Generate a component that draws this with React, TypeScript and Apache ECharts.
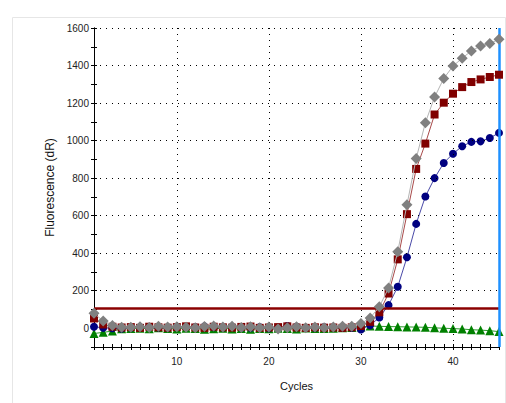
import React, { useEffect, useRef } from "react";
import * as echarts from "echarts";

// Amplification cycles 1..45
const cycles: number[] = Array.from({ length: 45 }, (_, i) => i + 1);

// Fluorescence (dR) per cycle for each well
const grayWell: number[] = [
  80, 38, 15, 5, 5, 8, 4, 10, 6, 8, 5, 3, 9, 12, 6, 10, 4, 8, 2, 6, -4, 2, 8, 3, 7, 2, 7, 10, 10, 25,
  55, 114, 215, 408, 658, 904, 1095, 1232, 1331, 1397, 1439, 1478, 1504, 1517, 1540,
];
const redWell: number[] = [
  52, 20, 8, 4, 6, 2, 8, 5, 3, 6, 10, 4, 2, 8, 5, 3, 7, 9, 2, 4, 6, 10, 4, 2, 5, 3, 4, 2, 5, 12,
  34, 85, 185, 367, 608, 849, 984, 1139, 1202, 1250, 1285, 1312, 1326, 1339, 1351,
];
const navyWell: number[] = [
  8, 2, 0, -2, 3, 6, 8, 4, 2, 6, 8, 5, 10, 6, 4, 8, 3, 2, 6, 0, 4, 12, 8, 3, 2, 5, 4, 3, 2, -7,
  16, 57, 123, 221, 378, 556, 702, 800, 881, 930, 970, 993, 996, 1014, 1041,
];
const greenWell: number[] = [
  -28, -22, -15, -3, -2, 0, -3, 2, -1, -4, 0, -2, -5, -3, 0, -4, -2, -6, -1, -3, 0, -2, -4, 1, -2, -1, 0, 2, 4, 6,
  12, 10, 9, 8, 7, 6, 5, 2, 0, -2, -4, -8, -10, -13, -18,
];

const threshold = 105;
const endCycle = 45;
const yGridValues: number[] = [200, 400, 600, 800, 1000, 1200, 1400, 1600];
const xGridValues: number[] = [10, 20, 30, 40];

const FONT = "'Liberation Sans', Arial, sans-serif";

const pairs = (vals: number[]) => cycles.map((c, i) => [c, vals[i]]);

export default function App() {
  const ref = useRef<HTMLDivElement>(null);

  useEffect(() => {
    document.body.style.margin = "0";
    if (!ref.current) return;
    const chart = echarts.init(ref.current, null, { renderer: "svg" });

    const dotted = { color: "#000", width: 1, type: [1, 5] as number[] };

    const baseX = {
      type: "value" as const,
      min: 1,
      max: 45,
      interval: 1,
      position: "bottom" as const,
      splitLine: { show: false },
      axisLine: { show: true, onZero: false, lineStyle: { color: "#000", width: 1 } },
    };
    const baseY = {
      type: "value" as const,
      min: -100,
      max: 1600,
      interval: 100,
      position: "left" as const,
      splitLine: { show: false },
      axisLine: { show: true, onZero: false, lineStyle: { color: "#000", width: 1 } },
    };

    chart.setOption({
      animation: false,
      backgroundColor: "#fff",
      graphic: [
        {
          type: "rect",
          shape: { x: 12.5, y: 17.5, width: 493, height: 400 },
          style: { fill: "none", stroke: "#e6e6e6", lineWidth: 1 },
          silent: true,
          z: -10,
        },
      ],
      grid: { left: 94, right: 7, top: 28, bottom: 56, containLabel: false },
      xAxis: [
        {
          ...baseX,
          name: "Cycles",
          nameLocation: "middle",
          nameGap: 33,
          nameTextStyle: { fontFamily: FONT, fontSize: 11, color: "#111" },
          axisTick: { show: true, inside: false, length: 3, lineStyle: { color: "#000" } },
          axisLabel: {
            fontFamily: FONT,
            fontSize: 10,
            color: "#222",
            margin: 9,
            formatter: (v: number) => (v % 10 === 0 ? String(v) : ""),
          },
        },
        {
          ...baseX,
          axisTick: { show: true, inside: true, length: 3, lineStyle: { color: "#000" } },
          axisLabel: { show: false },
        },
      ],
      yAxis: [
        {
          ...baseY,
          name: "Fluorescence (dR)",
          nameLocation: "middle",
          nameGap: 30,
          nameTextStyle: { fontFamily: FONT, fontSize: 12, color: "#111" },
          axisTick: { show: true, inside: false, length: 3, lineStyle: { color: "#000" } },
          axisLabel: {
            fontFamily: FONT,
            fontSize: 10,
            color: "#222",
            margin: 5,
            formatter: (v: number) => (v >= 0 && v % 200 === 0 ? String(v) : ""),
          },
        },
        {
          ...baseY,
          axisTick: { show: true, inside: true, length: 3, lineStyle: { color: "#000" } },
          axisLabel: { show: false },
        },
      ],
      series: [
        {
          name: "Green",
          type: "line",
          data: pairs(greenWell),
          symbol: "triangle",
          symbolSize: 9,
          itemStyle: { color: "#008000" },
          lineStyle: { color: "#2a9a2a", width: 1 },
          z: 3,
          markLine: {
            silent: true,
            symbol: "none",
            label: { show: false },
            animation: false,
            data: [
              ...yGridValues.map((v) => ({ yAxis: v, lineStyle: dotted })),
              ...xGridValues.map((v) => ({ xAxis: v, lineStyle: dotted })),
              { yAxis: threshold, lineStyle: { color: "#8b0000", width: 2.5, type: "solid" } },
            ],
          },
        },
        {
          name: "Navy",
          type: "line",
          data: pairs(navyWell),
          symbol: "circle",
          symbolSize: 8,
          itemStyle: { color: "#000080" },
          lineStyle: { color: "#4a4aa8", width: 1 },
          z: 4,
        },
        {
          name: "Red",
          type: "line",
          data: pairs(redWell),
          symbol: "rect",
          symbolSize: 8,
          itemStyle: { color: "#800000" },
          lineStyle: { color: "#a84a4a", width: 1 },
          z: 5,
        },
        {
          name: "Gray",
          type: "line",
          data: pairs(grayWell),
          symbol: "diamond",
          symbolSize: 11,
          itemStyle: { color: "#808080" },
          lineStyle: { color: "#b4b4b4", width: 1 },
          z: 6,
          markLine: {
            silent: true,
            symbol: "none",
            label: { show: false },
            animation: false,
            data: [{ xAxis: endCycle, lineStyle: { color: "#1e90ff", width: 2.5, type: "solid" } }],
          },
        },
      ],
    });

    return () => chart.dispose();
  }, []);

  return <div ref={ref} style={{ width: 506, height: 403 }} />;
}
